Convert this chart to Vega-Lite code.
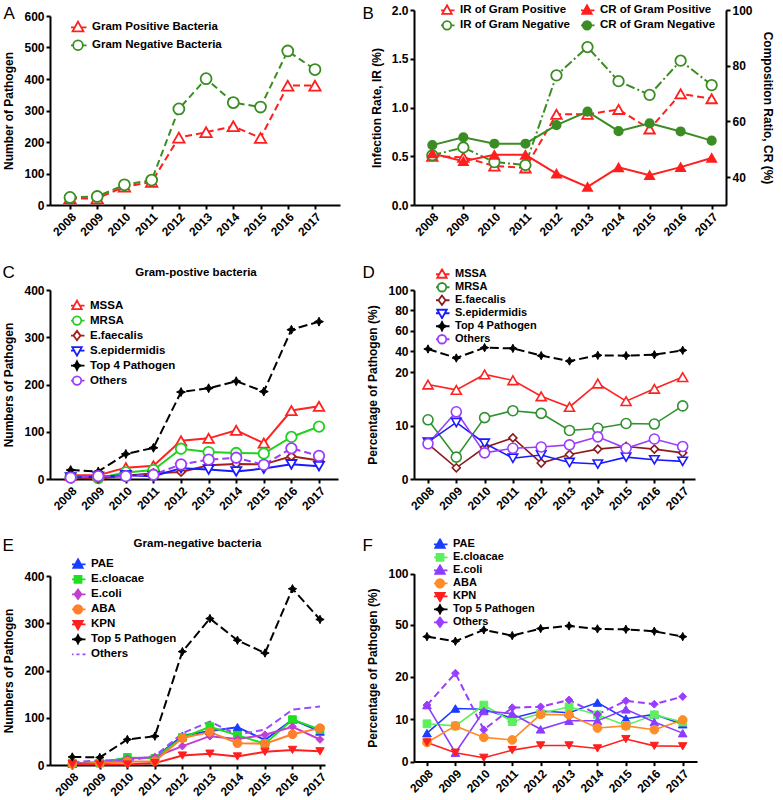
{
"$schema": "https://vega.github.io/schema/vega-lite/v6.json",
"background": "white",
"padding": {"left": 2, "top": 2, "right": 0, "bottom": 0},
"autosize": {"type": "pad"},
"config": {
  "font": "Liberation Sans",
  "view": {"stroke": null},
  "axis": {"labelFont": "Liberation Sans", "labelFontWeight": "bold", "labelFontSize": 12, "labelColor": "#000", "titleFont": "Liberation Sans", "titleFontWeight": "bold", "titleFontSize": 12, "titleColor": "#000", "domainColor": "#000", "domainWidth": 2, "tickColor": "#000", "tickWidth": 2, "tickSize": 4, "labelPadding": 2, "grid": false, "labelOverlap": false},
  "axisY": {"titlePadding": 8, "tickCount": 12},
  "axisX": {"labelPadding": 2},
  "legend": {"labelFont": "Liberation Sans", "labelFontWeight": "bold", "labelFontSize": 11.5, "labelColor": "#000", "padding": 0, "symbolStrokeWidth": 1.8, "symbolSize": 100, "symbolOpacity": 1, "labelOffset": 7, "rowPadding": 0},
  "title": {"font": "Liberation Sans", "color": "#000"}
},
"datasets": {
  "a": [
    {"year":"2008","s":"Gram Positive Bacteria","v":21},{"year":"2009","s":"Gram Positive Bacteria","v":21},{"year":"2010","s":"Gram Positive Bacteria","v":58},{"year":"2011","s":"Gram Positive Bacteria","v":73},{"year":"2012","s":"Gram Positive Bacteria","v":214},{"year":"2013","s":"Gram Positive Bacteria","v":231},{"year":"2014","s":"Gram Positive Bacteria","v":250},{"year":"2015","s":"Gram Positive Bacteria","v":213},{"year":"2016","s":"Gram Positive Bacteria","v":379},{"year":"2017","s":"Gram Positive Bacteria","v":379},
    {"year":"2008","s":"Gram Negative Bacteria","v":24},{"year":"2009","s":"Gram Negative Bacteria","v":27},{"year":"2010","s":"Gram Negative Bacteria","v":64},{"year":"2011","s":"Gram Negative Bacteria","v":79},{"year":"2012","s":"Gram Negative Bacteria","v":305},{"year":"2013","s":"Gram Negative Bacteria","v":401},{"year":"2014","s":"Gram Negative Bacteria","v":325},{"year":"2015","s":"Gram Negative Bacteria","v":311},{"year":"2016","s":"Gram Negative Bacteria","v":489},{"year":"2017","s":"Gram Negative Bacteria","v":430}
  ],
  "b": [
    {"year":"2008","s":"IR of Gram Positive","v":0.50},{"year":"2009","s":"IR of Gram Positive","v":0.49},{"year":"2010","s":"IR of Gram Positive","v":0.40},{"year":"2011","s":"IR of Gram Positive","v":0.38},{"year":"2012","s":"IR of Gram Positive","v":0.93},{"year":"2013","s":"IR of Gram Positive","v":0.93},{"year":"2014","s":"IR of Gram Positive","v":0.98},{"year":"2015","s":"IR of Gram Positive","v":0.78},{"year":"2016","s":"IR of Gram Positive","v":1.14},{"year":"2017","s":"IR of Gram Positive","v":1.09},
    {"year":"2008","s":"IR of Gram Negative","v":0.51},{"year":"2009","s":"IR of Gram Negative","v":0.59},{"year":"2010","s":"IR of Gram Negative","v":0.44},{"year":"2011","s":"IR of Gram Negative","v":0.41},{"year":"2012","s":"IR of Gram Negative","v":1.33},{"year":"2013","s":"IR of Gram Negative","v":1.62},{"year":"2014","s":"IR of Gram Negative","v":1.27},{"year":"2015","s":"IR of Gram Negative","v":1.13},{"year":"2016","s":"IR of Gram Negative","v":1.48},{"year":"2017","s":"IR of Gram Negative","v":1.23},
    {"year":"2008","s":"CR of Gram Positive","v":48.5},{"year":"2009","s":"CR of Gram Positive","v":45.7},{"year":"2010","s":"CR of Gram Positive","v":48.0},{"year":"2011","s":"CR of Gram Positive","v":48.0},{"year":"2012","s":"CR of Gram Positive","v":41.3},{"year":"2013","s":"CR of Gram Positive","v":36.5},{"year":"2014","s":"CR of Gram Positive","v":43.5},{"year":"2015","s":"CR of Gram Positive","v":40.7},{"year":"2016","s":"CR of Gram Positive","v":43.6},{"year":"2017","s":"CR of Gram Positive","v":46.9},
    {"year":"2008","s":"CR of Gram Negative","v":51.5},{"year":"2009","s":"CR of Gram Negative","v":54.3},{"year":"2010","s":"CR of Gram Negative","v":52.0},{"year":"2011","s":"CR of Gram Negative","v":52.0},{"year":"2012","s":"CR of Gram Negative","v":58.7},{"year":"2013","s":"CR of Gram Negative","v":63.5},{"year":"2014","s":"CR of Gram Negative","v":56.5},{"year":"2015","s":"CR of Gram Negative","v":59.3},{"year":"2016","s":"CR of Gram Negative","v":56.4},{"year":"2017","s":"CR of Gram Negative","v":53.1}
  ],
  "c": [
    {"year":"2008","s":"MSSA","v":8},{"year":"2009","s":"MSSA","v":8},{"year":"2010","s":"MSSA","v":24},{"year":"2011","s":"MSSA","v":28},{"year":"2012","s":"MSSA","v":81},{"year":"2013","s":"MSSA","v":86},{"year":"2014","s":"MSSA","v":103},{"year":"2015","s":"MSSA","v":76},{"year":"2016","s":"MSSA","v":145},{"year":"2017","s":"MSSA","v":154},
    {"year":"2008","s":"MRSA","v":5},{"year":"2009","s":"MRSA","v":2},{"year":"2010","s":"MRSA","v":14},{"year":"2011","s":"MRSA","v":19},{"year":"2012","s":"MRSA","v":64},{"year":"2013","s":"MRSA","v":57},{"year":"2014","s":"MRSA","v":55},{"year":"2015","s":"MRSA","v":54},{"year":"2016","s":"MRSA","v":89},{"year":"2017","s":"MRSA","v":111},
    {"year":"2008","s":"E.faecalis","v":3},{"year":"2009","s":"E.faecalis","v":1},{"year":"2010","s":"E.faecalis","v":7},{"year":"2011","s":"E.faecalis","v":12},{"year":"2012","s":"E.faecalis","v":15},{"year":"2013","s":"E.faecalis","v":29},{"year":"2014","s":"E.faecalis","v":32},{"year":"2015","s":"E.faecalis","v":31},{"year":"2016","s":"E.faecalis","v":48},{"year":"2017","s":"E.faecalis","v":39},
    {"year":"2008","s":"S.epidermidis","v":3},{"year":"2009","s":"S.epidermidis","v":5},{"year":"2010","s":"S.epidermidis","v":8},{"year":"2011","s":"S.epidermidis","v":6},{"year":"2012","s":"S.epidermidis","v":23},{"year":"2013","s":"S.epidermidis","v":20},{"year":"2014","s":"S.epidermidis","v":16},{"year":"2015","s":"S.epidermidis","v":22},{"year":"2016","s":"S.epidermidis","v":31},{"year":"2017","s":"S.epidermidis","v":27},
    {"year":"2008","s":"Top 4 Pathogen","v":19},{"year":"2009","s":"Top 4 Pathogen","v":16},{"year":"2010","s":"Top 4 Pathogen","v":53},{"year":"2011","s":"Top 4 Pathogen","v":66},{"year":"2012","s":"Top 4 Pathogen","v":184},{"year":"2013","s":"Top 4 Pathogen","v":192},{"year":"2014","s":"Top 4 Pathogen","v":207},{"year":"2015","s":"Top 4 Pathogen","v":185},{"year":"2016","s":"Top 4 Pathogen","v":316},{"year":"2017","s":"Top 4 Pathogen","v":333},
    {"year":"2008","s":"Others","v":3},{"year":"2009","s":"Others","v":6},{"year":"2010","s":"Others","v":6},{"year":"2011","s":"Others","v":9},{"year":"2012","s":"Others","v":31},{"year":"2013","s":"Others","v":41},{"year":"2014","s":"Others","v":45},{"year":"2015","s":"Others","v":30},{"year":"2016","s":"Others","v":65},{"year":"2017","s":"Others","v":49}
  ],
  "d": [
    {"year":"2008","s":"MSSA","v":17.7},{"year":"2009","s":"MSSA","v":16.7},{"year":"2010","s":"MSSA","v":19.6},{"year":"2011","s":"MSSA","v":18.5},{"year":"2012","s":"MSSA","v":15.5},{"year":"2013","s":"MSSA","v":13.5},{"year":"2014","s":"MSSA","v":17.9},{"year":"2015","s":"MSSA","v":14.6},{"year":"2016","s":"MSSA","v":16.9},{"year":"2017","s":"MSSA","v":19.1},
    {"year":"2008","s":"MRSA","v":11.1},{"year":"2009","s":"MRSA","v":4.1},{"year":"2010","s":"MRSA","v":11.5},{"year":"2011","s":"MRSA","v":12.8},{"year":"2012","s":"MRSA","v":12.3},{"year":"2013","s":"MRSA","v":9.1},{"year":"2014","s":"MRSA","v":9.5},{"year":"2015","s":"MRSA","v":10.4},{"year":"2016","s":"MRSA","v":10.3},{"year":"2017","s":"MRSA","v":13.7},
    {"year":"2008","s":"E.faecalis","v":6.6},{"year":"2009","s":"E.faecalis","v":2.1},{"year":"2010","s":"E.faecalis","v":5.9},{"year":"2011","s":"E.faecalis","v":7.7},{"year":"2012","s":"E.faecalis","v":3.0},{"year":"2013","s":"E.faecalis","v":4.6},{"year":"2014","s":"E.faecalis","v":5.6},{"year":"2015","s":"E.faecalis","v":6.1},{"year":"2016","s":"E.faecalis","v":5.6},{"year":"2017","s":"E.faecalis","v":4.9},
    {"year":"2008","s":"S.epidermidis","v":6.9},{"year":"2009","s":"S.epidermidis","v":10.6},{"year":"2010","s":"S.epidermidis","v":6.7},{"year":"2011","s":"S.epidermidis","v":3.9},{"year":"2012","s":"S.epidermidis","v":4.5},{"year":"2013","s":"S.epidermidis","v":3.1},{"year":"2014","s":"S.epidermidis","v":2.8},{"year":"2015","s":"S.epidermidis","v":4.1},{"year":"2016","s":"S.epidermidis","v":3.6},{"year":"2017","s":"S.epidermidis","v":3.3},
    {"year":"2008","s":"Top 4 Pathogen","v":42.3},{"year":"2009","s":"Top 4 Pathogen","v":33.5},{"year":"2010","s":"Top 4 Pathogen","v":43.6},{"year":"2011","s":"Top 4 Pathogen","v":42.9},{"year":"2012","s":"Top 4 Pathogen","v":35.8},{"year":"2013","s":"Top 4 Pathogen","v":30.5},{"year":"2014","s":"Top 4 Pathogen","v":36.1},{"year":"2015","s":"Top 4 Pathogen","v":35.8},{"year":"2016","s":"Top 4 Pathogen","v":36.7},{"year":"2017","s":"Top 4 Pathogen","v":41.0},
    {"year":"2008","s":"Others","v":6.6},{"year":"2009","s":"Others","v":12.6},{"year":"2010","s":"Others","v":4.9},{"year":"2011","s":"Others","v":5.75},{"year":"2012","s":"Others","v":6.0},{"year":"2013","s":"Others","v":6.4},{"year":"2014","s":"Others","v":7.9},{"year":"2015","s":"Others","v":5.75},{"year":"2016","s":"Others","v":7.5},{"year":"2017","s":"Others","v":6.1}
  ],
  "e": [
    {"year":"2008","s":"PAE","v":3},{"year":"2009","s":"PAE","v":6},{"year":"2010","s":"PAE","v":15},{"year":"2011","s":"PAE","v":15},{"year":"2012","s":"PAE","v":62},{"year":"2013","s":"PAE","v":72},{"year":"2014","s":"PAE","v":80},{"year":"2015","s":"PAE","v":53},{"year":"2016","s":"PAE","v":96},{"year":"2017","s":"PAE","v":71},
    {"year":"2008","s":"E.cloacae","v":4},{"year":"2009","s":"E.cloacae","v":4},{"year":"2010","s":"E.cloacae","v":16},{"year":"2011","s":"E.cloacae","v":14},{"year":"2012","s":"E.cloacae","v":58},{"year":"2013","s":"E.cloacae","v":81},{"year":"2014","s":"E.cloacae","v":63},{"year":"2015","s":"E.cloacae","v":45},{"year":"2016","s":"E.cloacae","v":96},{"year":"2017","s":"E.cloacae","v":75},
    {"year":"2008","s":"E.coli","v":6},{"year":"2009","s":"E.coli","v":1},{"year":"2010","s":"E.coli","v":14},{"year":"2011","s":"E.coli","v":17},{"year":"2012","s":"E.coli","v":40},{"year":"2013","s":"E.coli","v":61},{"year":"2014","s":"E.coli","v":55},{"year":"2015","s":"E.coli","v":64},{"year":"2016","s":"E.coli","v":81},{"year":"2017","s":"E.coli","v":54},
    {"year":"2008","s":"ABA","v":2},{"year":"2009","s":"ABA","v":4},{"year":"2010","s":"ABA","v":7},{"year":"2011","s":"ABA","v":8},{"year":"2012","s":"ABA","v":57},{"year":"2013","s":"ABA","v":70},{"year":"2014","s":"ABA","v":46},{"year":"2015","s":"ABA","v":45},{"year":"2016","s":"ABA","v":65},{"year":"2017","s":"ABA","v":78},
    {"year":"2008","s":"KPN","v":2},{"year":"2009","s":"KPN","v":1},{"year":"2010","s":"KPN","v":1},{"year":"2011","s":"KPN","v":4},{"year":"2012","s":"KPN","v":20},{"year":"2013","s":"KPN","v":24},{"year":"2014","s":"KPN","v":18},{"year":"2015","s":"KPN","v":28},{"year":"2016","s":"KPN","v":32},{"year":"2017","s":"KPN","v":29},
    {"year":"2008","s":"Top 5 Pathogen","v":17},{"year":"2009","s":"Top 5 Pathogen","v":16},{"year":"2010","s":"Top 5 Pathogen","v":54},{"year":"2011","s":"Top 5 Pathogen","v":61},{"year":"2012","s":"Top 5 Pathogen","v":240},{"year":"2013","s":"Top 5 Pathogen","v":310},{"year":"2014","s":"Top 5 Pathogen","v":264},{"year":"2015","s":"Top 5 Pathogen","v":237},{"year":"2016","s":"Top 5 Pathogen","v":373},{"year":"2017","s":"Top 5 Pathogen","v":308},
    {"year":"2008","s":"Others","v":6},{"year":"2009","s":"Others","v":10},{"year":"2010","s":"Others","v":9},{"year":"2011","s":"Others","v":19},{"year":"2012","s":"Others","v":67},{"year":"2013","s":"Others","v":92},{"year":"2014","s":"Others","v":64},{"year":"2015","s":"Others","v":75},{"year":"2016","s":"Others","v":117},{"year":"2017","s":"Others","v":124}
  ],
  "f": [
    {"year":"2008","s":"PAE","v":6.7},{"year":"2009","s":"PAE","v":12.5},{"year":"2010","s":"PAE","v":12.3},{"year":"2011","s":"PAE","v":10.2},{"year":"2012","s":"PAE","v":11.9},{"year":"2013","s":"PAE","v":11.5},{"year":"2014","s":"PAE","v":13.9},{"year":"2015","s":"PAE","v":10.1},{"year":"2016","s":"PAE","v":11.1},{"year":"2017","s":"PAE","v":8.8},
    {"year":"2008","s":"E.cloacae","v":8.9},{"year":"2009","s":"E.cloacae","v":8.4},{"year":"2010","s":"E.cloacae","v":13.3},{"year":"2011","s":"E.cloacae","v":9.4},{"year":"2012","s":"E.cloacae","v":11.3},{"year":"2013","s":"E.cloacae","v":12.9},{"year":"2014","s":"E.cloacae","v":11.0},{"year":"2015","s":"E.cloacae","v":8.5},{"year":"2016","s":"E.cloacae","v":11.0},{"year":"2017","s":"E.cloacae","v":9.3},
    {"year":"2008","s":"E.coli","v":13.3},{"year":"2009","s":"E.coli","v":2.1},{"year":"2010","s":"E.coli","v":11.9},{"year":"2011","s":"E.coli","v":11.3},{"year":"2012","s":"E.coli","v":7.6},{"year":"2013","s":"E.coli","v":9.6},{"year":"2014","s":"E.coli","v":9.6},{"year":"2015","s":"E.coli","v":12.3},{"year":"2016","s":"E.coli","v":9.3},{"year":"2017","s":"E.coli","v":6.7},
    {"year":"2008","s":"ABA","v":4.5},{"year":"2009","s":"ABA","v":8.4},{"year":"2010","s":"ABA","v":5.7},{"year":"2011","s":"ABA","v":5.1},{"year":"2012","s":"ABA","v":11.1},{"year":"2013","s":"ABA","v":11.0},{"year":"2014","s":"ABA","v":7.9},{"year":"2015","s":"ABA","v":8.4},{"year":"2016","s":"ABA","v":7.5},{"year":"2017","s":"ABA","v":9.8},
    {"year":"2008","s":"KPN","v":4.5},{"year":"2009","s":"KPN","v":2.1},{"year":"2010","s":"KPN","v":0.9},{"year":"2011","s":"KPN","v":2.7},{"year":"2012","s":"KPN","v":3.8},{"year":"2013","s":"KPN","v":3.8},{"year":"2014","s":"KPN","v":3.1},{"year":"2015","s":"KPN","v":5.3},{"year":"2016","s":"KPN","v":3.7},{"year":"2017","s":"KPN","v":3.6},
    {"year":"2008","s":"Top 5 Pathogen","v":38.2},{"year":"2009","s":"Top 5 Pathogen","v":33.7},{"year":"2010","s":"Top 5 Pathogen","v":44.8},{"year":"2011","s":"Top 5 Pathogen","v":39.2},{"year":"2012","s":"Top 5 Pathogen","v":46.1},{"year":"2013","s":"Top 5 Pathogen","v":48.7},{"year":"2014","s":"Top 5 Pathogen","v":45.8},{"year":"2015","s":"Top 5 Pathogen","v":45.4},{"year":"2016","s":"Top 5 Pathogen","v":43.5},{"year":"2017","s":"Top 5 Pathogen","v":38.2},
    {"year":"2008","s":"Others","v":13.3},{"year":"2009","s":"Others","v":20.8},{"year":"2010","s":"Others","v":7.5},{"year":"2011","s":"Others","v":12.7},{"year":"2012","s":"Others","v":12.9},{"year":"2013","s":"Others","v":14.5},{"year":"2014","s":"Others","v":11.1},{"year":"2015","s":"Others","v":14.3},{"year":"2016","s":"Others","v":13.5},{"year":"2017","s":"Others","v":15.3}
  ]
},
"columns": 2,
"spacing": {"row": 85, "column": 74},
"bounds": "flush",
"resolve": {"scale": {"stroke": "independent", "fill": "independent", "shape": "independent"}, "legend": {"stroke": "independent", "fill": "independent", "shape": "independent"}},
"concat": [
{
  "width": 290, "height": 195,
  "data": {"name": "a"},
  "encoding": {
    "x": {"field": "year", "type": "ordinal", "scale": {"type": "point", "padding": 0.827, "align": 0.444}, "axis": null},
    "y": {"field": "v", "type": "quantitative", "scale": {"domain": [0, 600], "range": [195, 6], "nice": false}}
  },
  "layer": [
    {"mark": {"type": "point", "opacity": 0, "filled": true},
     "encoding": {
       "stroke": {"field": "s", "type": "nominal", "scale": {"domain": ["Gram Positive Bacteria", "Gram Negative Bacteria"], "range": ["#ff1f1f", "#3b8d23"]}, "legend": {"orient": "none", "legendX": 21, "legendY": 8.5, "title": null, "clipHeight": 17.6, "symbolSize": 130}},
       "fill": {"field": "s", "type": "nominal", "scale": {"domain": ["Gram Positive Bacteria", "Gram Negative Bacteria"], "range": ["white", "white"]}, "legend": {"orient": "none", "legendX": 21, "legendY": 8.5, "title": null, "clipHeight": 17.6, "symbolSize": 130}},
       "shape": {"field": "s", "type": "nominal", "scale": {"domain": ["Gram Positive Bacteria", "Gram Negative Bacteria"], "range": ["M0,-1L0.95,0.7L-0.95,0.7ZM-1.5,0H-0.56M0.56,0H1.5", "M-0.85,0A0.85,0.85,0,1,1,0.85,0A0.85,0.85,0,1,1,-0.85,0ZM-1.5,0H-0.85M0.85,0H1.5"]}, "legend": {"orient": "none", "legendX": 21, "legendY": 8.5, "title": null, "clipHeight": 17.6, "symbolSize": 130}}
     }},
    {"mark": {"type": "line", "strokeWidth": 2, "strokeDash": [7, 4]},
     "encoding": {
       "x": {"field": "year", "type": "ordinal", "axis": {"orient": "bottom", "labelAngle": -45, "title": null}},
       "y": {"field": "v", "type": "quantitative", "axis": {"values": [0,100,200,300,400,500,600], "title": "Number of Pathogen", "tickCount": 12}},
       "stroke": {"field": "s", "type": "nominal"}
     }},
    {"transform": [{"filter": "datum.s==='Gram Positive Bacteria'"}],
     "mark": {"type": "point", "shape": "triangle-up", "filled": true, "fill": "white", "size": 130, "strokeWidth": 1.8, "opacity": 1},
     "encoding": {
       "x": {"field": "year", "type": "ordinal", "axis": {"orient": "top", "title": "A", "labels": false, "ticks": false, "domain": false, "titleX": -47, "titleY": 8.5, "titleAngle": 0, "titleAlign": "left", "titleBaseline": "alphabetic", "titleFontSize": 17, "titleFontWeight": "normal"}},
       "stroke": {"field": "s", "type": "nominal"}
     }},
    {"transform": [{"filter": "datum.s==='Gram Negative Bacteria'"}],
     "mark": {"type": "point", "shape": "circle", "filled": true, "fill": "white", "size": 120, "strokeWidth": 1.8, "opacity": 1},
     "encoding": {"stroke": {"field": "s", "type": "nominal"}}}
  ],
  "resolve": {"axis": {"x": "independent"}}
},
{
  "width": 312, "height": 195,
  "data": {"name": "b"},
  "encoding": {
    "x": {"field": "year", "type": "ordinal", "scale": {"type": "point", "padding": 0.526, "align": 0.561}, "axis": null}
  },
  "layer": [
    {"transform": [{"filter": "indexof(datum.s,'IR')===0"}],
     "mark": {"type": "point", "opacity": 0, "filled": true},
     "encoding": {
       "y": {"field": "v", "type": "quantitative", "scale": {"domain": [0, 2], "nice": false}, "axis": null},
       "stroke": {"field": "s", "type": "nominal", "scale": {"domain": ["IR of Gram Positive", "IR of Gram Negative", "CR of Gram Positive", "CR of Gram Negative"], "range": ["#ff1f1f", "#3b8d23", "#ff1f1f", "#3b8d23"]}, "legend": {"orient": "none", "legendX": 27, "legendY": -7.2, "title": null, "columns": 2, "columnPadding": 11, "clipHeight": 15}},
       "fill": {"field": "s", "type": "nominal", "scale": {"domain": ["IR of Gram Positive", "IR of Gram Negative", "CR of Gram Positive", "CR of Gram Negative"], "range": ["white", "white", "#ff1f1f", "#3b8d23"]}, "legend": {"orient": "none", "legendX": 27, "legendY": -7.2, "title": null, "columns": 2, "columnPadding": 11, "clipHeight": 15}},
       "shape": {"field": "s", "type": "nominal", "scale": {"domain": ["IR of Gram Positive", "IR of Gram Negative", "CR of Gram Positive", "CR of Gram Negative"], "range": ["M0,-1L0.95,0.7L-0.95,0.7ZM-1.5,0H-0.56M0.56,0H1.5", "M-0.85,0A0.85,0.85,0,1,1,0.85,0A0.85,0.85,0,1,1,-0.85,0ZM-1.5,0H-0.85M0.85,0H1.5", "M0,-1L0.95,0.7L-0.95,0.7ZM-1.5,0H-0.56M0.56,0H1.5", "M-0.85,0A0.85,0.85,0,1,1,0.85,0A0.85,0.85,0,1,1,-0.85,0ZM-1.5,0H-0.85M0.85,0H1.5"]}, "legend": {"orient": "none", "legendX": 27, "legendY": -7.2, "title": null, "columns": 2, "columnPadding": 11, "clipHeight": 15}}
     }},
    {"transform": [{"filter": "datum.s==='IR of Gram Positive'"}],
     "mark": {"type": "line", "strokeWidth": 2, "strokeDash": [7, 4]},
     "encoding": {
       "x": {"field": "year", "type": "ordinal", "axis": {"orient": "bottom", "labelAngle": -45, "title": null}},
       "y": {"field": "v", "type": "quantitative", "scale": {"domain": [0, 2], "nice": false}, "axis": {"orient": "left", "values": [0,0.5,1,1.5,2], "format": ".1f", "title": "Infection Rate, IR (%)", "tickCount": 12}},
       "stroke": {"field": "s", "type": "nominal"}
     }},
    {"transform": [{"filter": "datum.s==='IR of Gram Negative'"}],
     "mark": {"type": "line", "strokeWidth": 2, "strokeDash": [9, 3, 2, 3]},
     "encoding": {
       "y": {"field": "v", "type": "quantitative", "scale": {"domain": [0, 2], "nice": false}, "axis": null},
       "stroke": {"field": "s", "type": "nominal"}
     }},
    {"transform": [{"filter": "indexof(datum.s,'CR')===0"}],
     "mark": {"type": "line", "strokeWidth": 2},
     "encoding": {
       "y": {"field": "v", "type": "quantitative", "scale": {"domain": [30, 100], "nice": false, "zero": false}, "axis": {"orient": "right", "values": [40,60,80,100], "title": "Composition Ratio, CR (%)", "tickCount": 12}},
       "stroke": {"field": "s", "type": "nominal"}
     }},
    {"transform": [{"filter": "datum.s==='IR of Gram Positive'"}],
     "mark": {"type": "point", "shape": "triangle-up", "filled": true, "fill": "white", "size": 110, "strokeWidth": 1.8, "opacity": 1},
     "encoding": {
       "x": {"field": "year", "type": "ordinal", "axis": {"orient": "top", "title": "B", "labels": false, "ticks": false, "domain": false, "titleX": -52, "titleY": 8.5, "titleAngle": 0, "titleAlign": "left", "titleBaseline": "alphabetic", "titleFontSize": 17, "titleFontWeight": "normal"}},
       "y": {"field": "v", "type": "quantitative", "scale": {"domain": [0, 2], "nice": false}, "axis": null},
       "stroke": {"field": "s", "type": "nominal"}
     }},
    {"transform": [{"filter": "datum.s==='IR of Gram Negative'"}],
     "mark": {"type": "point", "shape": "circle", "filled": true, "fill": "white", "size": 110, "strokeWidth": 1.8, "opacity": 1},
     "encoding": {
       "y": {"field": "v", "type": "quantitative", "scale": {"domain": [0, 2], "nice": false}, "axis": null},
       "stroke": {"field": "s", "type": "nominal"}
     }},
    {"transform": [{"filter": "datum.s==='CR of Gram Positive'"}],
     "mark": {"type": "point", "shape": "triangle-up", "filled": true, "fill": "#ff1f1f", "size": 90, "strokeWidth": 1.5, "opacity": 1},
     "encoding": {
       "y": {"field": "v", "type": "quantitative", "scale": {"domain": [30, 100], "nice": false, "zero": false}, "axis": null},
       "stroke": {"field": "s", "type": "nominal"}
     }},
    {"transform": [{"filter": "datum.s==='CR of Gram Negative'"}],
     "mark": {"type": "point", "shape": "circle", "filled": true, "fill": "#3b8d23", "size": 75, "strokeWidth": 1.5, "opacity": 1},
     "encoding": {
       "y": {"field": "v", "type": "quantitative", "scale": {"domain": [30, 100], "nice": false, "zero": false}, "axis": null},
       "stroke": {"field": "s", "type": "nominal"}
     }}
  ],
  "resolve": {"scale": {"y": "independent"}, "axis": {"x": "independent", "y": "independent"}}
},
{
  "width": 288, "height": 189,
  "data": {"name": "c"},
  "title": {"text": "Gram-postive bacteria", "anchor": "middle", "frame": "group", "fontSize": 11.5, "fontWeight": "bold", "offset": -15, "dx": 2},
  "encoding": {
    "x": {"field": "year", "type": "ordinal", "scale": {"type": "point", "padding": 0.719, "align": 0.521}, "axis": null},
    "y": {"field": "v", "type": "quantitative", "scale": {"domain": [0, 400], "nice": false}}
  },
  "layer": [
    {"mark": {"type": "point", "opacity": 0, "filled": true},
     "encoding": {
       "stroke": {"field": "s", "type": "nominal", "scale": {"domain": ["MSSA", "MRSA", "E.faecalis", "S.epidermidis", "Top 4 Pathogen", "Others"], "range": ["#ff2222", "#22d022", "#a31f1f", "#1a1aff", "#000000", "#9b3dff"]}, "legend": {"orient": "none", "legendX": 21, "legendY": 8.5, "title": null, "clipHeight": 14.2}},
       "fill": {"field": "s", "type": "nominal", "scale": {"domain": ["MSSA", "MRSA", "E.faecalis", "S.epidermidis", "Top 4 Pathogen", "Others"], "range": ["white", "white", "white", "white", "#000000", "white"]}, "legend": {"orient": "none", "legendX": 21, "legendY": 8.5, "title": null, "clipHeight": 14.2}},
       "shape": {"field": "s", "type": "nominal", "scale": {"domain": ["MSSA", "MRSA", "E.faecalis", "S.epidermidis", "Top 4 Pathogen", "Others"], "range": ["M0,-1L0.95,0.7L-0.95,0.7ZM-1.5,0H-0.56M0.56,0H1.5", "M-0.85,0A0.85,0.85,0,1,1,0.85,0A0.85,0.85,0,1,1,-0.85,0ZM-1.5,0H-0.85M0.85,0H1.5", "M0,-0.95L0.7,0L0,0.95L-0.7,0ZM-1.5,0H-0.7M0.7,0H1.5", "M0,1L0.95,-0.7L-0.95,-0.7ZM-1.5,0H-0.56M0.56,0H1.5", "M0,-0.85L0.28,-0.28L0.85,0L0.28,0.28L0,0.85L-0.28,0.28L-0.85,0L-0.28,-0.28ZM-1.5,0H-0.85M0.85,0H1.5", "M-0.85,0A0.85,0.85,0,1,1,0.85,0A0.85,0.85,0,1,1,-0.85,0ZM-1.5,0H-0.85M0.85,0H1.5"]}, "legend": {"orient": "none", "legendX": 21, "legendY": 8.5, "title": null, "clipHeight": 14.2}}
     }},
    {"transform": [{"filter": "datum.s!=='Top 4 Pathogen' && datum.s!=='Others'"}],
     "mark": {"type": "line", "strokeWidth": 2},
     "encoding": {
       "x": {"field": "year", "type": "ordinal", "axis": {"orient": "bottom", "labelAngle": -45, "title": null}},
       "y": {"field": "v", "type": "quantitative", "axis": {"values": [0,100,200,300,400], "title": "Numbers of Pathogen", "tickCount": 12}},
       "stroke": {"field": "s", "type": "nominal"}
     }},
    {"transform": [{"filter": "datum.s==='Top 4 Pathogen'"}],
     "mark": {"type": "line", "strokeWidth": 2, "strokeDash": [9, 4]},
     "encoding": {"stroke": {"field": "s", "type": "nominal"}}},
    {"transform": [{"filter": "datum.s==='Others'"}],
     "mark": {"type": "line", "strokeWidth": 2, "strokeDash": [7, 4]},
     "encoding": {"stroke": {"field": "s", "type": "nominal"}}},
    {"transform": [{"filter": "datum.s==='MSSA'"}],
     "mark": {"type": "point", "shape": "triangle-up", "filled": true, "fill": "white", "size": 110, "strokeWidth": 1.8, "opacity": 1},
     "encoding": {
       "x": {"field": "year", "type": "ordinal", "axis": {"orient": "top", "title": "C", "labels": false, "ticks": false, "domain": false, "titleX": -48, "titleY": -13, "titleAngle": 0, "titleAlign": "left", "titleBaseline": "alphabetic", "titleFontSize": 17, "titleFontWeight": "normal"}},
       "stroke": {"field": "s", "type": "nominal"}
     }},
    {"transform": [{"filter": "datum.s==='MRSA'"}],
     "mark": {"type": "point", "shape": "circle", "filled": true, "fill": "white", "size": 110, "strokeWidth": 1.8, "opacity": 1},
     "encoding": {"stroke": {"field": "s", "type": "nominal"}}},
    {"transform": [{"filter": "datum.s==='E.faecalis'"}],
     "mark": {"type": "point", "shape": "diamond", "filled": true, "fill": "white", "size": 70, "strokeWidth": 1.8, "opacity": 1},
     "encoding": {"stroke": {"field": "s", "type": "nominal"}}},
    {"transform": [{"filter": "datum.s==='S.epidermidis'"}],
     "mark": {"type": "point", "shape": "triangle-down", "filled": true, "fill": "white", "size": 100, "strokeWidth": 1.8, "opacity": 1},
     "encoding": {"stroke": {"field": "s", "type": "nominal"}}},
    {"transform": [{"filter": "datum.s==='Top 4 Pathogen'"}],
     "mark": {"type": "point", "shape": "M0,-1L0.33,-0.33L1,0L0.33,0.33L0,1L-0.33,0.33L-1,0L-0.33,-0.33Z", "filled": true, "fill": "#000000", "size": 80, "strokeWidth": 1, "opacity": 1},
     "encoding": {"stroke": {"field": "s", "type": "nominal"}}},
    {"transform": [{"filter": "datum.s==='Others'"}],
     "mark": {"type": "point", "shape": "circle", "filled": true, "fill": "white", "size": 110, "strokeWidth": 1.8, "opacity": 1},
     "encoding": {"stroke": {"field": "s", "type": "nominal"}}}
  ],
  "resolve": {"axis": {"x": "independent"}}
},
{
  "width": 281, "height": 189,
  "data": {"name": "d"},
  "encoding": {
    "x": {"field": "year", "type": "ordinal", "scale": {"type": "point", "padding": 0.465, "align": 0.532}, "axis": null},
    "y": {"field": "v", "type": "quantitative", "scale": {"type": "linear", "domain": [0, 20, 29, 100], "range": [189, 82.3, 72.6, 0], "nice": false}}
  },
  "layer": [
    {"mark": {"type": "point", "opacity": 0, "filled": true},
     "encoding": {
       "stroke": {"field": "s", "type": "nominal", "scale": {"domain": ["MSSA", "MRSA", "E.faecalis", "S.epidermidis", "Top 4 Pathogen", "Others"], "range": ["#ff2222", "#2e922e", "#8b1a1a", "#1a1aff", "#000000", "#9b3dff"]}, "legend": {"orient": "none", "legendX": 22, "legendY": -21.7, "title": null, "clipHeight": 11.9, "labelFontSize": 11}},
       "fill": {"field": "s", "type": "nominal", "scale": {"domain": ["MSSA", "MRSA", "E.faecalis", "S.epidermidis", "Top 4 Pathogen", "Others"], "range": ["white", "white", "white", "white", "#000000", "white"]}, "legend": {"orient": "none", "legendX": 22, "legendY": -21.7, "title": null, "clipHeight": 11.9, "labelFontSize": 11}},
       "shape": {"field": "s", "type": "nominal", "scale": {"domain": ["MSSA", "MRSA", "E.faecalis", "S.epidermidis", "Top 4 Pathogen", "Others"], "range": ["M0,-1L0.95,0.7L-0.95,0.7ZM-1.5,0H-0.56M0.56,0H1.5", "M-0.85,0A0.85,0.85,0,1,1,0.85,0A0.85,0.85,0,1,1,-0.85,0ZM-1.5,0H-0.85M0.85,0H1.5", "M0,-0.95L0.7,0L0,0.95L-0.7,0ZM-1.5,0H-0.7M0.7,0H1.5", "M0,1L0.95,-0.7L-0.95,-0.7ZM-1.5,0H-0.56M0.56,0H1.5", "M0,-0.85L0.28,-0.28L0.85,0L0.28,0.28L0,0.85L-0.28,0.28L-0.85,0L-0.28,-0.28ZM-1.5,0H-0.85M0.85,0H1.5", "M-0.85,0A0.85,0.85,0,1,1,0.85,0A0.85,0.85,0,1,1,-0.85,0ZM-1.5,0H-0.85M0.85,0H1.5"]}, "legend": {"orient": "none", "legendX": 22, "legendY": -21.7, "title": null, "clipHeight": 11.9, "labelFontSize": 11}}
     }},
    {"transform": [{"filter": "datum.s!=='Top 4 Pathogen'"}],
     "mark": {"type": "line", "strokeWidth": 1.6},
     "encoding": {
       "x": {"field": "year", "type": "ordinal", "axis": {"orient": "bottom", "labelAngle": -45, "title": null}},
       "y": {"field": "v", "type": "quantitative", "axis": {"values": [0,10,20,40,60,80,100], "title": "Percentage of Pathogen (%)", "tickCount": 12}},
       "stroke": {"field": "s", "type": "nominal"}
     }},
    {"transform": [{"filter": "datum.s==='Top 4 Pathogen'"}],
     "mark": {"type": "line", "strokeWidth": 2, "strokeDash": [9, 4]},
     "encoding": {"stroke": {"field": "s", "type": "nominal"}}},
    {"transform": [{"filter": "datum.s==='MSSA'"}],
     "mark": {"type": "point", "shape": "triangle-up", "filled": true, "fill": "white", "size": 100, "strokeWidth": 1.6, "opacity": 1},
     "encoding": {
       "x": {"field": "year", "type": "ordinal", "axis": {"orient": "top", "title": "D", "labels": false, "ticks": false, "domain": false, "titleX": -52, "titleY": -13, "titleAngle": 0, "titleAlign": "left", "titleBaseline": "alphabetic", "titleFontSize": 17, "titleFontWeight": "normal"}},
       "stroke": {"field": "s", "type": "nominal"}
     }},
    {"transform": [{"filter": "datum.s==='MRSA'"}],
     "mark": {"type": "point", "shape": "circle", "filled": true, "fill": "white", "size": 100, "strokeWidth": 1.6, "opacity": 1},
     "encoding": {"stroke": {"field": "s", "type": "nominal"}}},
    {"transform": [{"filter": "datum.s==='E.faecalis'"}],
     "mark": {"type": "point", "shape": "diamond", "filled": true, "fill": "white", "size": 64, "strokeWidth": 1.6, "opacity": 1},
     "encoding": {"stroke": {"field": "s", "type": "nominal"}}},
    {"transform": [{"filter": "datum.s==='S.epidermidis'"}],
     "mark": {"type": "point", "shape": "triangle-down", "filled": true, "fill": "white", "size": 90, "strokeWidth": 1.6, "opacity": 1},
     "encoding": {"stroke": {"field": "s", "type": "nominal"}}},
    {"transform": [{"filter": "datum.s==='Top 4 Pathogen'"}],
     "mark": {"type": "point", "shape": "M0,-1L0.33,-0.33L1,0L0.33,0.33L0,1L-0.33,0.33L-1,0L-0.33,-0.33Z", "filled": true, "fill": "#000000", "size": 70, "strokeWidth": 1, "opacity": 1},
     "encoding": {"stroke": {"field": "s", "type": "nominal"}}},
    {"transform": [{"filter": "datum.s==='Others'"}],
     "mark": {"type": "point", "shape": "circle", "filled": true, "fill": "white", "size": 100, "strokeWidth": 1.6, "opacity": 1},
     "encoding": {"stroke": {"field": "s", "type": "nominal"}}}
  ],
  "resolve": {"axis": {"x": "independent"}}
},
{
  "width": 275, "height": 201,
  "data": {"name": "e"},
  "title": {"text": "Gram-negative bacteria", "anchor": "middle", "frame": "group", "fontSize": 11.5, "fontWeight": "bold", "offset": -13, "dx": 10},
  "encoding": {
    "x": {"field": "year", "type": "ordinal", "scale": {"type": "point", "padding": 0.496, "align": 0.817}, "axis": null},
    "y": {"field": "v", "type": "quantitative", "scale": {"domain": [0, 400], "range": [201, 12], "nice": false}}
  },
  "layer": [
    {"mark": {"type": "point", "opacity": 0, "filled": true},
     "encoding": {
       "stroke": {"field": "s", "type": "nominal", "scale": {"domain": ["PAE", "E.cloacae", "E.coli", "ABA", "KPN", "Top 5 Pathogen", "Others"], "range": ["#1a3cff", "#1fe01f", "#c23fd4", "#ff7f2a", "#ff1f1f", "#000000", "#9b4dff"]}, "legend": {"orient": "none", "legendX": 22, "legendY": -6.8, "title": null, "clipHeight": 14.2}},
       "fill": {"field": "s", "type": "nominal", "scale": {"domain": ["PAE", "E.cloacae", "E.coli", "ABA", "KPN", "Top 5 Pathogen", "Others"], "range": ["#1a3cff", "#1fe01f", "#c23fd4", "#ff7f2a", "#ff1f1f", "#000000", "#9b4dff"]}, "legend": {"orient": "none", "legendX": 22, "legendY": -6.8, "title": null, "clipHeight": 14.2}},
       "shape": {"field": "s", "type": "nominal", "scale": {"domain": ["PAE", "E.cloacae", "E.coli", "ABA", "KPN", "Top 5 Pathogen", "Others"], "range": ["M0,-1L0.95,0.7L-0.95,0.7ZM-1.5,0H-0.56M0.56,0H1.5", "M-0.7,-0.7H0.7V0.7H-0.7ZM-1.5,0H-0.7M0.7,0H1.5", "M0,-0.95L0.7,0L0,0.95L-0.7,0ZM-1.5,0H-0.7M0.7,0H1.5", "M-0.85,0A0.85,0.85,0,1,1,0.85,0A0.85,0.85,0,1,1,-0.85,0ZM-1.5,0H-0.85M0.85,0H1.5", "M0,1L0.95,-0.7L-0.95,-0.7ZM-1.5,0H-0.56M0.56,0H1.5", "M0,-0.85L0.28,-0.28L0.85,0L0.28,0.28L0,0.85L-0.28,0.28L-0.85,0L-0.28,-0.28ZM-1.5,0H-0.85M0.85,0H1.5", "M-1.5,0H-0.9M-0.3,0H0.3M0.9,0H1.5"]}, "legend": {"orient": "none", "legendX": 22, "legendY": -6.8, "title": null, "clipHeight": 14.2}}
     }},
    {"transform": [{"filter": "datum.s!=='Top 5 Pathogen' && datum.s!=='Others'"}],
     "mark": {"type": "line", "strokeWidth": 2},
     "encoding": {
       "x": {"field": "year", "type": "ordinal", "axis": {"orient": "bottom", "labelAngle": -45, "title": null}},
       "y": {"field": "v", "type": "quantitative", "axis": {"values": [0,100,200,300,400], "title": "Numbers of Pathogen", "tickCount": 12}},
       "stroke": {"field": "s", "type": "nominal"}
     }},
    {"transform": [{"filter": "datum.s==='Top 5 Pathogen'"}],
     "mark": {"type": "line", "strokeWidth": 2, "strokeDash": [9, 4]},
     "encoding": {"stroke": {"field": "s", "type": "nominal"}}},
    {"transform": [{"filter": "datum.s==='Others'"}],
     "mark": {"type": "line", "strokeWidth": 2, "strokeDash": [7, 4]},
     "encoding": {"stroke": {"field": "s", "type": "nominal"}}},
    {"transform": [{"filter": "datum.s==='PAE'"}],
     "mark": {"type": "point", "shape": "triangle-up", "filled": true, "fill": "#1a3cff", "size": 75, "strokeWidth": 1, "opacity": 1},
     "encoding": {
       "x": {"field": "year", "type": "ordinal", "axis": {"orient": "top", "title": "E", "labels": false, "ticks": false, "domain": false, "titleX": -48, "titleY": -14, "titleAngle": 0, "titleAlign": "left", "titleBaseline": "alphabetic", "titleFontSize": 17, "titleFontWeight": "normal"}},
       "stroke": {"field": "s", "type": "nominal"}
     }},
    {"transform": [{"filter": "datum.s==='E.cloacae'"}],
     "mark": {"type": "point", "shape": "square", "filled": true, "fill": "#1fe01f", "size": 60, "strokeWidth": 1, "opacity": 1},
     "encoding": {"stroke": {"field": "s", "type": "nominal"}}},
    {"transform": [{"filter": "datum.s==='E.coli'"}],
     "mark": {"type": "point", "shape": "diamond", "filled": true, "fill": "#c23fd4", "size": 60, "strokeWidth": 1, "opacity": 1},
     "encoding": {"stroke": {"field": "s", "type": "nominal"}}},
    {"transform": [{"filter": "datum.s==='ABA'"}],
     "mark": {"type": "point", "shape": "circle", "filled": true, "fill": "#ff7f2a", "size": 75, "strokeWidth": 1, "opacity": 1},
     "encoding": {"stroke": {"field": "s", "type": "nominal"}}},
    {"transform": [{"filter": "datum.s==='KPN'"}],
     "mark": {"type": "point", "shape": "triangle-down", "filled": true, "fill": "#ff1f1f", "size": 70, "strokeWidth": 1, "opacity": 1},
     "encoding": {"stroke": {"field": "s", "type": "nominal"}}},
    {"transform": [{"filter": "datum.s==='Top 5 Pathogen'"}],
     "mark": {"type": "point", "shape": "M0,-1L0.33,-0.33L1,0L0.33,0.33L0,1L-0.33,0.33L-1,0L-0.33,-0.33Z", "filled": true, "fill": "#000000", "size": 70, "strokeWidth": 1, "opacity": 1},
     "encoding": {"stroke": {"field": "s", "type": "nominal"}}}
  ],
  "resolve": {"axis": {"x": "independent"}}
},
{
  "width": 283, "height": 197.6,
  "data": {"name": "f"},
  "encoding": {
    "x": {"field": "year", "type": "ordinal", "scale": {"type": "point", "padding": 0.48, "align": 0.476}, "axis": null},
    "y": {"field": "v", "type": "quantitative", "scale": {"type": "linear", "domain": [0, 25, 30.7, 100], "range": [197.6, 91.35, 80.3, 9.6], "nice": false}}
  },
  "layer": [
    {"mark": {"type": "point", "opacity": 0, "filled": true},
     "encoding": {
       "stroke": {"field": "s", "type": "nominal", "scale": {"domain": ["PAE", "E.cloacae", "E.coli", "ABA", "KPN", "Top 5 Pathogen", "Others"], "range": ["#1a3cff", "#5cf05c", "#8b3dff", "#ff8c26", "#ff1f1f", "#000000", "#9b3dff"]}, "legend": {"orient": "none", "legendX": 20, "legendY": -25.8, "title": null, "clipHeight": 12.2, "labelFontSize": 11}},
       "fill": {"field": "s", "type": "nominal", "scale": {"domain": ["PAE", "E.cloacae", "E.coli", "ABA", "KPN", "Top 5 Pathogen", "Others"], "range": ["#1a3cff", "#5cf05c", "#8b3dff", "#ff8c26", "#ff1f1f", "#000000", "#9b3dff"]}, "legend": {"orient": "none", "legendX": 20, "legendY": -25.8, "title": null, "clipHeight": 12.2, "labelFontSize": 11}},
       "shape": {"field": "s", "type": "nominal", "scale": {"domain": ["PAE", "E.cloacae", "E.coli", "ABA", "KPN", "Top 5 Pathogen", "Others"], "range": ["M0,-1L0.95,0.7L-0.95,0.7ZM-1.5,0H-0.56M0.56,0H1.5", "M-0.7,-0.7H0.7V0.7H-0.7ZM-1.5,0H-0.7M0.7,0H1.5", "M0,-1L0.95,0.7L-0.95,0.7ZM-1.5,0H-0.56M0.56,0H1.5", "M-0.85,0A0.85,0.85,0,1,1,0.85,0A0.85,0.85,0,1,1,-0.85,0ZM-1.5,0H-0.85M0.85,0H1.5", "M0,1L0.95,-0.7L-0.95,-0.7ZM-1.5,0H-0.56M0.56,0H1.5", "M0,-0.85L0.28,-0.28L0.85,0L0.28,0.28L0,0.85L-0.28,0.28L-0.85,0L-0.28,-0.28ZM-1.5,0H-0.85M0.85,0H1.5", "M0,-0.95L0.7,0L0,0.95L-0.7,0ZM-1.5,0H-0.7M0.7,0H1.5"]}, "legend": {"orient": "none", "legendX": 20, "legendY": -25.8, "title": null, "clipHeight": 12.2, "labelFontSize": 11}}
     }},
    {"transform": [{"filter": "datum.s!=='Top 5 Pathogen' && datum.s!=='Others'"}],
     "mark": {"type": "line", "strokeWidth": 1.6},
     "encoding": {
       "x": {"field": "year", "type": "ordinal", "axis": {"orient": "bottom", "labelAngle": -45, "title": null}},
       "y": {"field": "v", "type": "quantitative", "axis": {"values": [0,10,20,50,100], "title": "Percentage of Pathogen (%)", "tickCount": 12}},
       "stroke": {"field": "s", "type": "nominal"}
     }},
    {"transform": [{"filter": "datum.s==='Top 5 Pathogen'"}],
     "mark": {"type": "line", "strokeWidth": 2, "strokeDash": [9, 4]},
     "encoding": {"stroke": {"field": "s", "type": "nominal"}}},
    {"transform": [{"filter": "datum.s==='Others'"}],
     "mark": {"type": "line", "strokeWidth": 2, "strokeDash": [7, 4]},
     "encoding": {"stroke": {"field": "s", "type": "nominal"}}},
    {"transform": [{"filter": "datum.s==='PAE'"}],
     "mark": {"type": "point", "shape": "triangle-up", "filled": true, "fill": "#1a3cff", "size": 75, "strokeWidth": 1, "opacity": 1},
     "encoding": {
       "x": {"field": "year", "type": "ordinal", "axis": {"orient": "top", "title": "F", "labels": false, "ticks": false, "domain": false, "titleX": -52, "titleY": -14, "titleAngle": 0, "titleAlign": "left", "titleBaseline": "alphabetic", "titleFontSize": 17, "titleFontWeight": "normal"}},
       "stroke": {"field": "s", "type": "nominal"}
     }},
    {"transform": [{"filter": "datum.s==='E.cloacae'"}],
     "mark": {"type": "point", "shape": "square", "filled": true, "fill": "#5cf05c", "size": 60, "strokeWidth": 1, "opacity": 1},
     "encoding": {"stroke": {"field": "s", "type": "nominal"}}},
    {"transform": [{"filter": "datum.s==='E.coli'"}],
     "mark": {"type": "point", "shape": "triangle-up", "filled": true, "fill": "#8b3dff", "size": 75, "strokeWidth": 1, "opacity": 1},
     "encoding": {"stroke": {"field": "s", "type": "nominal"}}},
    {"transform": [{"filter": "datum.s==='ABA'"}],
     "mark": {"type": "point", "shape": "circle", "filled": true, "fill": "#ff8c26", "size": 75, "strokeWidth": 1, "opacity": 1},
     "encoding": {"stroke": {"field": "s", "type": "nominal"}}},
    {"transform": [{"filter": "datum.s==='KPN'"}],
     "mark": {"type": "point", "shape": "triangle-down", "filled": true, "fill": "#ff1f1f", "size": 70, "strokeWidth": 1, "opacity": 1},
     "encoding": {"stroke": {"field": "s", "type": "nominal"}}},
    {"transform": [{"filter": "datum.s==='Top 5 Pathogen'"}],
     "mark": {"type": "point", "shape": "M0,-1L0.33,-0.33L1,0L0.33,0.33L0,1L-0.33,0.33L-1,0L-0.33,-0.33Z", "filled": true, "fill": "#000000", "size": 70, "strokeWidth": 1, "opacity": 1},
     "encoding": {"stroke": {"field": "s", "type": "nominal"}}},
    {"transform": [{"filter": "datum.s==='Others'"}],
     "mark": {"type": "point", "shape": "diamond", "filled": true, "fill": "#9b3dff", "size": 60, "strokeWidth": 1, "opacity": 1},
     "encoding": {"stroke": {"field": "s", "type": "nominal"}}}
  ],
  "resolve": {"axis": {"x": "independent"}}
}
]
}
